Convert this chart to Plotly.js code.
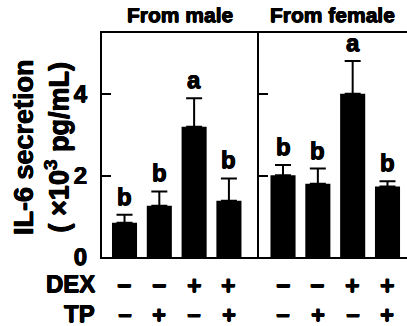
<!DOCTYPE html>
<html>
<head>
<meta charset="utf-8">
<script src="https://cdn.plot.ly/plotly-3.0.1.min.js"></script>
<style>html,body{margin:0;padding:0;background:#fff;}#chart{width:407px;height:326px;}</style>
</head>
<body>
<div id="chart"></div>
<script>
// ---- data ----
const categories = ['DEX−/TP−', 'DEX−/TP+', 'DEX+/TP−', 'DEX+/TP+'];
const maleMean = [0.84, 1.26, 3.20, 1.38];
const maleSE = [0.20, 0.35, 0.70, 0.55];
const femaleMean = [2.01, 1.80, 4.01, 1.73];
const femaleSE = [0.25, 0.37, 0.80, 0.13];
const maleLetters = ['b', 'b', 'a', 'b'];
const femaleLetters = ['b', 'b', 'a', 'b'];
const dexSigns = ['−', '−', '+', '+'];
const tpSigns = ['−', '+', '−', '+'];
const panelTitles = ['From male', 'From female'];
const rowLabels = ['DEX', 'TP'];
const yTickVals = [0, 2, 4];
const yTickText = ['0', '2', '4'];
const yTitleLines = ['IL-6 secretion', '( ×10<sup>3</sup> pg/mL)'];

// ---- style ----
const FONT = 'Liberation Sans, Arial, Helvetica, sans-serif';
const HEAVY = '0.5px 0 0 #000, -0.5px 0 0 #000, 0 0.5px 0 #000';
const font = (size, heavy) => Object.assign({family: FONT, size: size, color: '#000', weight: 'bold'},
  heavy ? {shadow: HEAVY} : {});
const B = (t) => '<b>' + t + '</b>';

function barTrace(mean, se, xa, ya) {
  return {
    type: 'bar', x: categories, y: mean, xaxis: xa, yaxis: ya,
    width: 0.72,
    marker: {color: '#000', line: {width: 0}},
    error_y: {type: 'data', symmetric: false, array: se, arrayminus: se.map(() => 0),
              color: '#000', thickness: 2, width: 8},
    hoverinfo: 'skip', showlegend: false
  };
}

const data = [
  barTrace(maleMean, maleSE, 'x', 'y'),
  barTrace(femaleMean, femaleSE, 'x2', 'y2')
];

const split = 0.5138;
const yTop = 5.50;
const axX = {
  type: 'category', showticklabels: false, ticks: '', showgrid: false, zeroline: false,
  showline: true, mirror: true, linewidth: 2, linecolor: '#000', fixedrange: true
};
const axY = {
  range: [0, yTop], showgrid: false, zeroline: false, showline: true, linewidth: 2,
  linecolor: '#000', ticks: 'inside', ticklen: 9, tickwidth: 2, tickcolor: '#000',
  tickvals: yTickVals, ticktext: yTickText.map(B), fixedrange: true
};

const annotations = [];
[maleLetters, femaleLetters].forEach((letters, p) => {
  const mean = p === 0 ? maleMean : femaleMean;
  const se = p === 0 ? maleSE : femaleSE;
  const xr = p === 0 ? 'x' : 'x2', yr = p === 0 ? 'y' : 'y2';
  letters.forEach((t, i) => annotations.push({
    xref: xr, yref: yr, x: categories[i], y: mean[i] + se[i], text: B(t),
    showarrow: false, yanchor: 'bottom', yshift: 3, font: font(24, true)
  }));
  dexSigns.forEach((t, i) => annotations.push({
    xref: xr, yref: 'paper', x: categories[i], y: -0.127, text: B(t),
    showarrow: false, yanchor: 'middle', font: font(25, true)
  }));
  tpSigns.forEach((t, i) => annotations.push({
    xref: xr, yref: 'paper', x: categories[i], y: -0.256, text: B(t),
    showarrow: false, yanchor: 'middle', font: font(24, true)
  }));
  annotations.push({
    xref: (p === 0 ? 'x' : 'x2') + ' domain', yref: 'paper', x: 0.5, y: 1.082,
    text: B(panelTitles[p]), showarrow: false, yanchor: 'middle', xanchor: 'center', font: font(21, true)
  });
});
annotations.push({xref: 'paper', yref: 'paper', x: -0.016, y: -0.118, text: B(rowLabels[0]),
  showarrow: false, xanchor: 'right', yanchor: 'middle', font: font(24, true)});
annotations.push({xref: 'paper', yref: 'paper', x: -0.016, y: -0.252, text: B(rowLabels[1]),
  showarrow: false, xanchor: 'right', yanchor: 'middle', font: font(24, true)});
annotations.push({xref: 'paper', yref: 'paper', x: -0.2, y: 0.491, text: yTitleLines.map(B).join('<br>'),
  textangle: -90, showarrow: false, xanchor: 'center', yanchor: 'middle', font: font(27, true)});

const layout = {
  width: 407, height: 326,
  margin: {l: 102, r: 0, t: 33, b: 69, pad: 0},
  paper_bgcolor: '#fff', plot_bgcolor: '#fff',
  font: {family: FONT, color: '#000'},
  showlegend: false,
  xaxis: Object.assign({}, axX, {domain: [0, split], anchor: 'y', range: [-0.647, 3.856]}),
  xaxis2: Object.assign({}, axX, {domain: [split, 1], anchor: 'y2', range: [-0.698, 3.56]}),
  yaxis: Object.assign({}, axY, {anchor: 'x', tickfont: font(24, true), ticklabelstandoff: 8}),
  yaxis2: Object.assign({}, axY, {anchor: 'x2', showticklabels: false}),
  annotations: annotations
};

Plotly.newPlot('chart', data, layout, {staticPlot: true, displayModeBar: false});
</script>
</body>
</html>
